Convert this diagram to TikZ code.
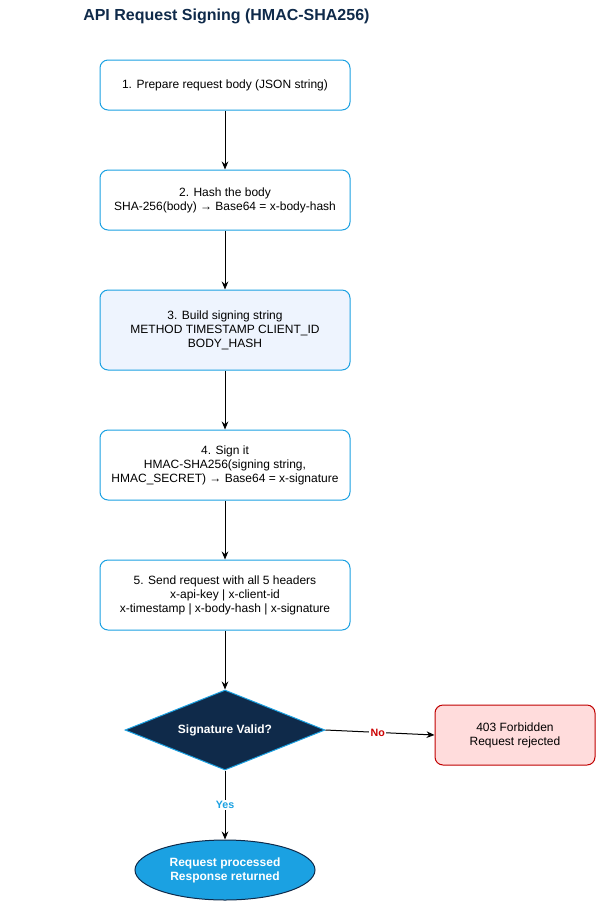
\documentclass[tikz,border=0pt]{standalone}
\usepackage{fontspec}
\setmainfont{Liberation Sans}
\usetikzlibrary{shapes.geometric,arrows.meta}
\definecolor{navy}{HTML}{0F2A4A}
\definecolor{dblue}{HTML}{1BA1E2}
\definecolor{lightfill}{HTML}{EEF4FE}
\definecolor{redfill}{HTML}{FFDCDC}
\definecolor{redline}{HTML}{C00000}
\definecolor{nored}{HTML}{CC0000}
\tikzset{
  stepbox/.style={draw=dblue, line width=0.75pt, rounded corners=6pt, fill=white,
    minimum width=187.5pt, align=center, inner sep=2pt,
    font=\fontsize{9}{10.5}\selectfont},
  conn/.style={-{Stealth[length=6pt,width=5pt]}, line width=0.75pt, black},
  lbl/.style={fill=white, inner sep=1pt, font=\bfseries\fontsize{8}{9}\selectfont}
}
\begin{document}
\begin{tikzpicture}[x=0.75pt,y=-0.75pt]
\useasboundingbox (0,0) rectangle (596,901);
\node[anchor=west, text=navy, font=\bfseries\fontsize{12}{14}\selectfont, inner sep=0pt] (title) at (83,16) {API Request Signing (HMAC-SHA256)};
\node[stepbox, minimum height=37.5pt] (b1) at (225,85) {1. Prepare request body (JSON string)};
\node[stepbox, minimum height=45pt] (b2) at (225,200) {2. Hash the body\\SHA-256(body) → Base64 = x-body-hash};
\node[stepbox, minimum height=60pt, fill=lightfill] (b3) at (225,330) {3. Build signing string\\METHOD TIMESTAMP CLIENT\_ID\\BODY\_HASH};
\node[stepbox, minimum height=52.5pt] (b4) at (225,465) {4. Sign it\\HMAC-SHA256(signing string,\\HMAC\_SECRET) → Base64 = x-signature};
\node[stepbox, minimum height=52.5pt] (b5) at (225,595) {5. Send request with all 5 headers\\x-api-key | x-client-id\\x-timestamp | x-body-hash | x-signature};
\node[diamond, aspect=2.5, draw=dblue, line width=0.75pt, fill=navy, text=white, inner sep=0pt,
  minimum width=150pt, minimum height=60pt, font=\bfseries\fontsize{9}{10.5}\selectfont] (d) at (225,730) {Signature Valid?};
\node[draw=redline, fill=redfill, line width=0.75pt, rounded corners=6pt, minimum width=120pt, minimum height=45pt,
  align=center, font=\fontsize{9}{10.5}\selectfont] (r) at (515,735) {403 Forbidden\\Request rejected};
\node[ellipse, draw=navy, fill=dblue, line width=0.75pt, text=white, minimum width=135pt, minimum height=45pt,
  inner sep=0pt, align=center, font=\bfseries\fontsize{9}{10.5}\selectfont] (e) at (225,870) {Request processed\\Response returned};
\draw[conn] (b1) -- (b2);
\draw[conn] (b2) -- (b3);
\draw[conn] (b3) -- (b4);
\draw[conn] (b4) -- (b5);
\draw[conn] (b5) -- (d);
\draw[conn] (d.east) -- node[lbl, text=nored, pos=0.48] {No} (r.west);
\draw[conn] (d.south) -- node[lbl, text=dblue] {Yes} (e.north);
\end{tikzpicture}
\end{document}
